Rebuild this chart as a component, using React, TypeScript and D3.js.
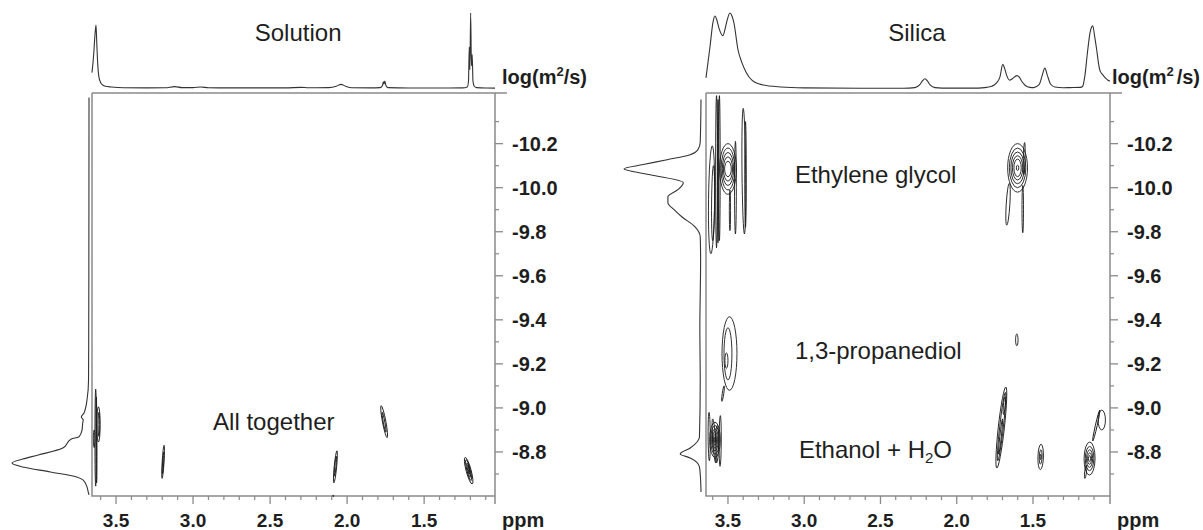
import React from 'react';
import * as d3 from 'd3';

type Pt = [number, number];
// contour ring: [ppm top, logD top, ppm bottom, logD bottom, half width in ppm]
type Ring = [number, number, number, number, number];

// 1D proton spectra on top: [ppm, relative intensity]
const solutionSpectrum: Pt[] = [
  [3.656, 0.21], [3.645, 0.45], [3.637, 0.7], [3.63, 0.84], [3.624, 0.55], [3.618, 0.3],
  [3.611, 0.15], [3.6, 0.08], [3.59, 0.05], [3.57, 0.03], [3.53, 0.02], [3.45, 0.01],
  [3.3, 0.008], [3.18, 0.01], [3.12, 0.025], [3.07, 0.012], [3.0, 0.012], [2.95, 0.02],
  [2.9, 0.01], [2.7, 0.008], [2.4, 0.008], [2.3, 0.015], [2.25, 0.01], [2.12, 0.012],
  [2.07, 0.03], [2.04, 0.055], [2.01, 0.03], [1.97, 0.01], [1.85, 0.008], [1.785, 0.012],
  [1.77, 0.04], [1.765, 0.09], [1.76, 0.06], [1.755, 0.1], [1.748, 0.04], [1.735, 0.012],
  [1.6, 0.006], [1.4, 0.006], [1.25, 0.008], [1.22, 0.02], [1.212, 0.1], [1.207, 0.55],
  [1.203, 0.25], [1.198, 1.0], [1.193, 0.3], [1.188, 0.45], [1.183, 0.1], [1.175, 0.03],
  [1.16, 0.012], [1.1, 0.006], [1.04, 0.005],
];

const silicaSpectrum: Pt[] = [
  [3.644, 0.14], [3.618, 0.55], [3.598, 0.88], [3.585, 0.96], [3.572, 0.9], [3.559, 0.8],
  [3.533, 0.7], [3.52, 0.78], [3.506, 0.9], [3.487, 1.0], [3.472, 0.95], [3.461, 0.87],
  [3.434, 0.51], [3.408, 0.34], [3.382, 0.22], [3.343, 0.11], [3.277, 0.05], [3.153, 0.02],
  [3.0, 0.008], [2.6, 0.003], [2.35, 0.003], [2.274, 0.012], [2.242, 0.05], [2.225, 0.1],
  [2.209, 0.13], [2.192, 0.1], [2.176, 0.05], [2.143, 0.012], [2.05, 0.005], [1.9, 0.005],
  [1.816, 0.012], [1.77, 0.03], [1.74, 0.07], [1.717, 0.15], [1.698, 0.32], [1.685, 0.26],
  [1.672, 0.17], [1.652, 0.11], [1.635, 0.13], [1.606, 0.17], [1.59, 0.15], [1.575, 0.1],
  [1.55, 0.04], [1.52, 0.015], [1.495, 0.012], [1.46, 0.05], [1.44, 0.17], [1.422, 0.27],
  [1.405, 0.17], [1.385, 0.06], [1.357, 0.02], [1.3, 0.01], [1.259, 0.012], [1.19, 0.015],
  [1.174, 0.03], [1.161, 0.15], [1.141, 0.51], [1.125, 0.75], [1.108, 0.83], [1.095, 0.68],
  [1.082, 0.51], [1.07, 0.33], [1.062, 0.245], [1.05, 0.2], [1.036, 0.165], [1.02, 0.13],
  [1.009, 0.11], [0.995, 0.1],
];

// diffusion projections on the left: [logD, relative intensity]
const solutionProjection: Pt[] = [
  [-10.41, 0], [-9.6, 0.002], [-9.127, 0.006], [-9.036, 0.026], [-8.977, 0.065], [-8.959, 0.1],
  [-8.945, 0.075], [-8.936, 0.08], [-8.9, 0.09], [-8.868, 0.13], [-8.859, 0.23], [-8.818, 0.34],
  [-8.786, 0.66], [-8.768, 0.86], [-8.75, 1.0], [-8.732, 0.86], [-8.709, 0.5], [-8.686, 0.16],
  [-8.673, 0.08], [-8.645, 0.03], [-8.618, 0.01], [-8.605, 0],
];

const silicaProjection: Pt[] = [
  [-10.4, 0], [-10.205, 0.01], [-10.173, 0.04], [-10.15, 0.14], [-10.127, 0.44], [-10.105, 0.75],
  [-10.086, 1.0], [-10.059, 0.66], [-10.023, 0.23], [-9.991, 0.3], [-9.959, 0.43], [-9.932, 0.43],
  [-9.9, 0.35], [-9.868, 0.25], [-9.823, 0.08], [-9.777, 0.01], [-9.673, 0.005], [-9.355, 0.015],
  [-9.127, 0.01], [-8.868, 0.02], [-8.818, 0.14], [-8.791, 0.27], [-8.773, 0.14], [-8.732, 0.02],
  [-8.673, 0.005], [-8.618, 0],
];

// 2D DOSY contours
const solutionContours: Ring[] = [
  [3.632, -9.085, 3.632, -8.645, 0.005], [3.628, -9.05, 3.626, -8.66, 0.003],
  [3.614, -9.005, 3.614, -8.845, 0.011], [3.611, -8.98, 3.611, -8.87, 0.005],
  [3.642, -8.9, 3.642, -8.82, 0.005],
  [3.188, -8.83, 3.201, -8.68, 0.006], [3.19, -8.8, 3.199, -8.7, 0.003],
  [2.066, -8.805, 2.086, -8.66, 0.008], [2.07, -8.78, 2.082, -8.69, 0.004],
  [1.779, -9.01, 1.74, -8.865, 0.011], [1.772, -8.98, 1.748, -8.89, 0.005],
  [1.234, -8.775, 1.188, -8.655, 0.016], [1.228, -8.765, 1.195, -8.67, 0.011],
  [1.222, -8.75, 1.2, -8.685, 0.006], [1.215, -8.74, 1.205, -8.7, 0.003],
  [2.09, -8.603, 2.09, -8.598, 0.004],
];

const silicaContours: Ring[] = [
  // ethylene glycol, 3.5 ppm
  [3.575, -10.418, 3.575, -9.727, 0.006], [3.556, -10.418, 3.556, -9.76, 0.005],
  [3.565, -10.4, 3.565, -9.75, 0.004],
  [3.4, -10.36, 3.392, -9.79, 0.012], [3.385, -10.3, 3.385, -9.82, 0.005],
  [3.451, -10.21, 3.451, -9.79, 0.006], [3.487, -9.99, 3.487, -9.805, 0.004],
  [3.603, -10.19, 3.612, -9.7, 0.02], [3.595, -10.1, 3.6, -9.76, 0.01],
  [3.5, -10.2, 3.5, -9.97, 0.055], [3.5, -10.18, 3.5, -9.99, 0.045], [3.5, -10.16, 3.5, -10.01, 0.037],
  [3.5, -10.14, 3.5, -10.03, 0.03], [3.5, -10.12, 3.5, -10.05, 0.022],
  // ethylene glycol, 1.6 ppm
  [1.601, -10.2, 1.601, -9.98, 0.065], [1.601, -10.18, 1.601, -10.0, 0.054], [1.601, -10.162, 1.601, -10.018, 0.044],
  [1.601, -10.145, 1.601, -10.035, 0.034], [1.601, -10.13, 1.601, -10.05, 0.024], [1.601, -10.102, 1.601, -10.078, 0.008],
  [1.655, -10.02, 1.672, -9.83, 0.012], [1.567, -10.01, 1.567, -9.795, 0.005], [1.555, -10.205, 1.56, -10.06, 0.006],
  // 1,3-propanediol
  [3.49, -9.414, 3.49, -9.08, 0.049], [3.5, -9.364, 3.5, -9.127, 0.026], [3.51, -9.25, 3.51, -9.18, 0.01],
  [3.525, -9.1, 3.54, -9.03, 0.005], [1.606, -9.336, 1.606, -9.282, 0.008],
  // ethanol + water
  [3.624, -8.98, 3.622, -8.76, 0.007], [3.55, -8.965, 3.552, -8.735, 0.007],
  [3.585, -8.935, 3.585, -8.775, 0.035], [3.585, -8.92, 3.585, -8.79, 0.028], [3.585, -8.905, 3.585, -8.805, 0.022],
  [3.585, -8.893, 3.585, -8.817, 0.016], [3.585, -8.88, 3.585, -8.83, 0.01], [3.585, -8.867, 3.585, -8.843, 0.005],
  [3.6, -8.95, 3.58, -8.75, 0.01], [3.57, -8.92, 3.575, -8.75, 0.012],
  [1.678, -9.095, 1.737, -8.727, 0.02], [1.681, -9.07, 1.731, -8.76, 0.012],
  [1.683, -9.05, 1.693, -8.97, 0.006], [1.7, -8.95, 1.725, -8.79, 0.005],
  [1.447, -8.835, 1.452, -8.72, 0.018], [1.448, -8.81, 1.451, -8.745, 0.009], [1.449, -8.79, 1.45, -8.765, 0.004],
  [1.128, -8.845, 1.13, -8.695, 0.036], [1.128, -8.825, 1.13, -8.715, 0.028], [1.128, -8.81, 1.13, -8.73, 0.02],
  [1.128, -8.796, 1.13, -8.744, 0.013], [1.128, -8.783, 1.13, -8.757, 0.007],
  [1.15, -8.74, 1.16, -8.68, 0.006], [1.062, -8.99, 1.108, -8.85, 0.006], [1.049, -8.99, 1.049, -8.9, 0.024],
];

// axes
const ppmTicks = [3.5, 3.0, 2.5, 2.0, 1.5];
const ppmMinor = [3.6, 3.4, 3.3, 3.2, 3.1, 2.9, 2.8, 2.7, 2.6, 2.4, 2.3, 2.2, 2.1, 1.9, 1.8, 1.7, 1.6, 1.4, 1.3, 1.2, 1.1];
const logDTicks = [-10.2, -10.0, -9.8, -9.6, -9.4, -9.2, -9.0, -8.8];
const logDMinor = [-10.3, -10.1, -9.9, -9.7, -9.5, -9.3, -9.1, -8.9, -8.7];

// annotations: [text, ppm, logD]
const solutionLabels: [string, number, number][] = [['All together', 2.87, -8.9]];
const silicaLabels: [string, number, number][] = [
  ['Ethylene glycol', 3.061, -10.023],
  ['1,3-propanediol', 3.061, -9.223],
  ['Ethanol + H2O', 3.035, -8.773],
];

const W = 1203;
const H = 530;
const plotTop = 93;
const plotBottom = 496;
const logDDomain: [number, number] = [-10.43, -8.6];
const FONT = '"Liberation Sans", Arial, sans-serif';
const AXIS = '#8a8a8a';
const INK = '#1e1e1e';

interface PanelProps {
  title: string;
  titlePpm: number;
  unitSpace: boolean;
  unitDx: number;
  xRange: [number, number];
  ppmDomain: [number, number];
  projRange: [number, number];
  spectrum: Pt[];
  projection: Pt[];
  contours: Ring[];
  labels: [string, number, number][];
}

const Panel: React.FC<PanelProps> = ({ title, titlePpm, unitSpace, unitDx, xRange, ppmDomain, projRange, spectrum, projection, contours, labels }) => {
  const x = d3.scaleLinear().domain(ppmDomain).range(xRange);
  const y = d3.scaleLinear().domain(logDDomain).range([plotTop, plotBottom]);
  const top = d3.scaleLinear().domain([0, 1]).range([88.5, 13]);
  const side = d3.scaleLinear().domain([0, 1]).range(projRange);
  const [x0, x1] = xRange;

  const specLine = d3.line<Pt>().x(d => x(d[0])).y(d => top(d[1])).curve(d3.curveMonotoneX);
  const projLine = d3.line<Pt>().x(d => side(d[1])).y(d => y(d[0])).curve(d3.curveMonotoneY);

  const minor = ppmMinor.filter(v => x(v) > x0 + 2 && x(v) < x1 - 2);

  return (
    <g>
      <text x={x(titlePpm)} y={41} textAnchor="middle" fontSize={24} fill={INK}>{title}</text>
      <path d={specLine(spectrum) || ''} fill="none" stroke="#333" strokeWidth={1.1} />
      <path d={projLine(projection) || ''} fill="none" stroke="#333" strokeWidth={1.1} />

      <text x={x1 + unitDx} y={84} fontSize={20} fontWeight="bold" fill={INK}>
        log(m<tspan fontSize={13} dy={-8}>2</tspan>
        <tspan dy={8} dx={unitSpace ? 3 : 0}>/s)</tspan>
      </text>

      {/* frame */}
      <path
        d={`M${x0},${plotTop}H${x1 + 12}M${x0},${plotTop}V${plotBottom}H${x1}M${x1},${plotTop}V${plotBottom + 8}`}
        fill="none" stroke={AXIS} strokeWidth={1.5}
      />

      {/* bottom ticks */}
      {ppmTicks.map(v => (
        <g key={v}>
          <line x1={x(v)} x2={x(v)} y1={plotBottom} y2={plotBottom + 8} stroke={AXIS} strokeWidth={1.3} />
          <text x={x(v)} y={527} textAnchor="middle" fontSize={19} fontWeight="bold" fill={INK}>{v.toFixed(1)}</text>
        </g>
      ))}
      {minor.map(v => (
        <line key={v} x1={x(v)} x2={x(v)} y1={plotBottom} y2={plotBottom + 4} stroke={AXIS} strokeWidth={1.2} />
      ))}
      <text x={x1 + 7} y={527} fontSize={20} fontWeight="bold" fill={INK}>ppm</text>

      {/* right ticks */}
      {logDTicks.map(v => (
        <g key={v}>
          <line x1={x1} x2={x1 + 8} y1={y(v)} y2={y(v)} stroke={AXIS} strokeWidth={1.3} />
          <text x={x1 + 17} y={y(v) + 7} fontSize={20} fontWeight="bold" fill={INK}>{v.toFixed(1)}</text>
        </g>
      ))}
      {logDMinor.map(v => (
        <line key={v} x1={x1} x2={x1 + 4} y1={y(v)} y2={y(v)} stroke={AXIS} strokeWidth={1.2} />
      ))}

      {/* contours */}
      {contours.map(([pa, la, pb, lb, hw], i) => {
        const xa = x(pa), ya = y(la), xb = x(pb), yb = y(lb);
        const cx = (xa + xb) / 2;
        const cy = (ya + yb) / 2;
        const ry = Math.max(Math.hypot(xb - xa, yb - ya) / 2, 0.6);
        const rx = Math.max(Math.abs(x(0) - x(hw)), 0.5);
        const ang = (-Math.atan2(xb - xa, yb - ya) * 180) / Math.PI;
        return (
          <ellipse key={i} cx={cx} cy={cy} rx={rx} ry={ry} transform={`rotate(${ang} ${cx} ${cy})`}
            fill="none" stroke="#1a1a1a" strokeWidth={0.9} />
        );
      })}

      {labels.map(([t, p, l]) => (
        <text key={t} x={x(p)} y={y(l)} fontSize={24} fill={INK}>
          {t === 'Ethanol + H2O' ? (
            <>Ethanol + H<tspan fontSize={15} dy={5}>2</tspan><tspan dy={-5}>O</tspan></>
          ) : t}
        </text>
      ))}
    </g>
  );
};

export default function App() {
  return (
    <svg width={W} height={H} style={{ position: 'absolute', left: 0, top: 0, background: '#fff' }} fontFamily={FONT}>
      <rect width={W} height={H} fill="#fff" />
      <Panel
        title="Solution" titlePpm={2.318} unitSpace={false} unitDx={7}
        xRange={[92, 495]} ppmDomain={[3.656, 1.04]} projRange={[89, 12]}
        spectrum={solutionSpectrum} projection={solutionProjection}
        contours={solutionContours} labels={solutionLabels}
      />
      <Panel
        title="Silica" titlePpm={2.261} unitSpace={true} unitDx={2}
        xRange={[706, 1110]} ppmDomain={[3.644, 0.995]} projRange={[701, 624]}
        spectrum={silicaSpectrum} projection={silicaProjection}
        contours={silicaContours} labels={silicaLabels}
      />
    </svg>
  );
}
